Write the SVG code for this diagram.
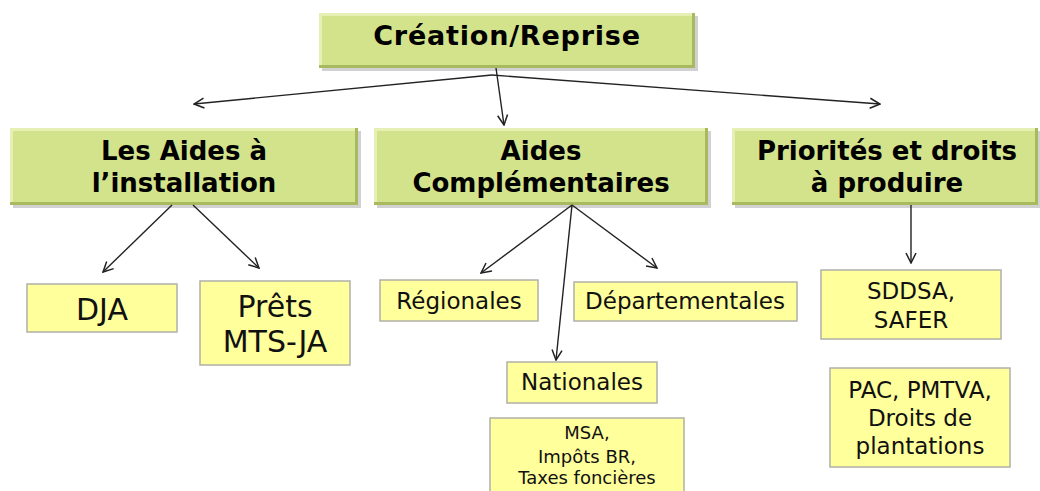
<svg xmlns="http://www.w3.org/2000/svg" width="1040" height="491" viewBox="0 0 1040 491">
<style>
.g{fill:#d3e38b}
.gh{fill:#e6f0b4}
.gd{fill:#a9b95e}
.sh{fill:#000;opacity:0.18}
.y{fill:#ffff9c;stroke:#b0b0a8;stroke-width:1.5}
.tb{font-family:"DejaVu Sans",Verdana,sans-serif;font-weight:bold;fill:#000;text-anchor:middle}
.t{font-family:"DejaVu Sans",Verdana,sans-serif;fill:#111;text-anchor:middle}
.c{stroke:#222;stroke-width:1.4;fill:none;marker-end:url(#a)}
</style>
<defs>
<marker id="a" viewBox="0 0 12 12" refX="11" refY="6" markerWidth="12" markerHeight="12" markerUnits="userSpaceOnUse" orient="auto">
<path d="M1,1 L11,6 L1,11" fill="none" stroke="#222" stroke-width="1.5"/>
</marker>
</defs>
<g id="n-top">
<rect class="sh" x="322" y="16" width="376" height="55"/>
<rect class="gd" x="319" y="13" width="376" height="55"/>
<rect class="gh" x="319" y="13" width="373" height="52"/>
<rect class="g" x="322" y="16" width="370" height="49"/>
<text class="tb" x="507" y="45" font-size="27" letter-spacing="0.8">Création/Reprise</text>
</g>
<g id="n-aides-install">
<rect class="sh" x="13" y="131" width="348" height="77"/>
<rect class="gd" x="10" y="128" width="348" height="77"/>
<rect class="gh" x="10" y="128" width="345" height="74"/>
<rect class="g" x="13" y="131" width="342" height="71"/>
<text class="tb" x="184" y="160" font-size="26">Les Aides à</text>
<text class="tb" x="184" y="192" font-size="26">l’installation</text>
</g>
<g id="n-aides-compl">
<rect class="sh" x="377" y="131" width="334" height="77"/>
<rect class="gd" x="374" y="128" width="334" height="77"/>
<rect class="gh" x="374" y="128" width="331" height="74"/>
<rect class="g" x="377" y="131" width="328" height="71"/>
<text class="tb" x="541" y="160" font-size="26">Aides</text>
<text class="tb" x="541" y="192" font-size="26">Complémentaires</text>
</g>
<g id="n-priorites">
<rect class="sh" x="735" y="131" width="305" height="77"/>
<rect class="gd" x="732" y="128" width="306" height="77"/>
<rect class="gh" x="732" y="128" width="303" height="74"/>
<rect class="g" x="735" y="131" width="300" height="71"/>
<text class="tb" x="887" y="160" font-size="26">Priorités et droits</text>
<text class="tb" x="887" y="192" font-size="26">à produire</text>
</g>
<g id="n-dja">
<rect class="y" x="27" y="284" width="150" height="48"/>
<text class="t" x="102" y="320" font-size="30">DJA</text>
</g>
<g id="n-prets">
<rect class="y" x="200" y="281" width="150" height="84"/>
<text class="t" x="275" y="317" font-size="30">Prêts</text>
<text class="t" x="275" y="352" font-size="30">MTS-JA</text>
</g>
<g id="n-regionales">
<rect class="y" x="380" y="280" width="158" height="41"/>
<text class="t" x="459" y="309" font-size="23">Régionales</text>
</g>
<g id="n-departementales">
<rect class="y" x="574" y="282" width="223" height="39"/>
<text class="t" x="685" y="309" font-size="23">Départementales</text>
</g>
<g id="n-nationales">
<rect class="y" x="507" y="362" width="150" height="41"/>
<text class="t" x="582" y="390" font-size="23">Nationales</text>
</g>
<g id="n-msa">
<rect class="y" x="490" y="418" width="194" height="80"/>
<text class="t" x="587" y="439" font-size="18">MSA,</text>
<text class="t" x="587" y="463" font-size="18">Impôts BR,</text>
<text class="t" x="587" y="484" font-size="18">Taxes foncières</text>
</g>
<g id="n-sddsa">
<rect class="y" x="821" y="270" width="180" height="69"/>
<text class="t" x="911" y="299" font-size="23">SDDSA,</text>
<text class="t" x="911" y="328" font-size="23">SAFER</text>
</g>
<g id="n-pac">
<rect class="y" x="830" y="368" width="180" height="99"/>
<text class="t" x="920" y="398" font-size="23">PAC, PMTVA,</text>
<text class="t" x="920" y="426" font-size="23">Droits de</text>
<text class="t" x="920" y="454" font-size="23">plantations</text>
</g>
<g id="connectors">
<line class="c" x1="492" y1="75" x2="194" y2="104"/>
<line class="c" x1="496" y1="68" x2="504" y2="125"/>
<line class="c" x1="492" y1="75" x2="880" y2="104"/>
<line class="c" x1="172" y1="205" x2="103" y2="272"/>
<line class="c" x1="193" y1="205" x2="259" y2="268"/>
<line class="c" x1="572" y1="205" x2="481" y2="273"/>
<line class="c" x1="572" y1="205" x2="556" y2="360"/>
<line class="c" x1="572" y1="205" x2="657" y2="268"/>
<line class="c" x1="911" y1="205" x2="911" y2="263"/>
</g>
</svg>
